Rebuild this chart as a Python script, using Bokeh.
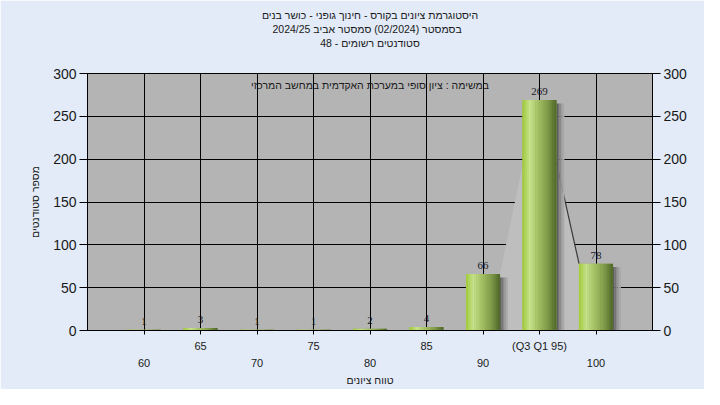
from bokeh.plotting import figure
from bokeh.models import (Range1d, FixedTicker, LinearAxis, Label, LabelSet, Title,
                          ColumnDataSource)
from bokeh.embed import file_html
from bokeh.resources import INLINE

# ---------------- data ----------------
grade_labels = ["60", "65", "70", "75", "80", "85", "90", "(Q3 Q1 95)", "100"]
counts = [1, 3, 1, 1, 2, 4, 66, 269, 78]
y_ticks = [0, 50, 100, 150, 200, 250, 300]
band_values = [66, 193, 196, 78]   # light quartile band around the 95 bar

title_lines = [
    "היסטוגרמת ציונים בקורס - חינוך גופני - כושר בנים",
    "בסמסטר  (02/2024)  סמסטר אביב 2024/25",
    "סטודנטים רשומים - 48",
]
note_text = "במשימה : ציון סופי במערכת האקדמית במחשב המרכזי"
x_title = "טווח ציונים"
y_title = "מספר סטודנטים"

# ---------------- helpers ----------------
FONT = "Liberation Sans"
HEB_SIZE = "10.5px"
idx = list(range(len(counts)))
BAR_W = 0.6


def hex2rgb(h):
    h = h.lstrip("#")
    return tuple(int(h[i:i + 2], 16) for i in (0, 2, 4))


def interp(stops, t):
    for (t0, c0), (t1, c1) in zip(stops, stops[1:]):
        if t0 <= t <= t1:
            f = (t - t0) / (t1 - t0) if t1 > t0 else 0
            a, b = hex2rgb(c0), hex2rgb(c1)
            return "#%02x%02x%02x" % tuple(int(round(a[i] + (b[i] - a[i]) * f)) for i in range(3))
    return stops[-1][1]


# ---------------- figure ----------------
p = figure(width=704, height=389, x_range=Range1d(-1, 9), y_range=Range1d(0, 300),
           output_backend="svg", toolbar_location=None,
           min_border_left=87, min_border_right=52, min_border_top=73, min_border_bottom=59)
p.background_fill_color = "#b4b4b4"
p.border_fill_color = "#e2ebf7"
p.outline_line_color = "black"
p.outline_line_width = 1

# x axis (row 1: odd labels + ticks)
xa = p.xaxis[0]
xa.ticker = FixedTicker(ticks=idx)
xa.major_label_overrides = {i: (grade_labels[i] if i % 2 == 1 else "") for i in idx}
xa.major_tick_out = 4
xa.major_tick_in = 0
xa.minor_tick_line_color = None
xa.axis_line_color = "black"
xa.major_tick_line_color = "black"
xa.major_label_standoff = 5
xa.major_label_text_font = FONT
xa.major_label_text_font_size = "11px"
xa.major_label_text_color = "#1a1a1a"

# x axis (row 2: even labels + axis title)
xa2 = LinearAxis(ticker=FixedTicker(ticks=idx))
xa2.major_label_overrides = {i: (grade_labels[i] if i % 2 == 0 else "") for i in idx}
xa2.axis_line_color = None
xa2.major_tick_line_color = None
xa2.minor_tick_line_color = None
xa2.major_tick_out = 0
xa2.major_tick_in = 0
xa2.major_label_standoff = 4
xa2.major_label_text_font = FONT
xa2.major_label_text_font_size = "11px"
xa2.major_label_text_color = "#1a1a1a"
xa2.axis_label = x_title
xa2.axis_label_text_font = FONT
xa2.axis_label_text_font_size = HEB_SIZE
xa2.axis_label_text_font_style = "normal"
xa2.axis_label_text_color = "#1a1a1a"
xa2.axis_label_standoff = 4
p.add_layout(xa2, "below")

# y axes
ya = p.yaxis[0]
ya.ticker = FixedTicker(ticks=y_ticks)
ya2 = LinearAxis(ticker=FixedTicker(ticks=y_ticks))
p.add_layout(ya2, "right")
for ax in (ya, ya2):
    ax.major_tick_out = 8
    ax.major_tick_in = 0
    ax.minor_tick_line_color = None
    ax.axis_line_color = "black"
    ax.major_tick_line_color = "black"
    ax.major_label_text_font = FONT
    ax.major_label_text_font_size = "14px"
    ax.major_label_text_color = "#1a1a1a"
    ax.major_label_standoff = 3
ya.axis_label = y_title
ya.axis_label_text_font = FONT
ya.axis_label_text_font_size = HEB_SIZE
ya.axis_label_text_font_style = "normal"
ya.axis_label_text_color = "#1a1a1a"
ya.axis_label_standoff = 9

# grid
p.xgrid.ticker = FixedTicker(ticks=idx)
p.ygrid.ticker = FixedTicker(ticks=y_ticks)
for g in (p.xgrid[0], p.ygrid[0]):
    g.grid_line_color = "black"
    g.grid_line_alpha = 1
    g.grid_line_width = 1

# light quartile band around the 95 bar (between bars 90, 95, 100)
i90, i95, i100 = 6, 7, 8
hw = BAR_W / 2
band_x = [i90 + hw, i90 + hw, i95 - hw, i95 + hw, i100 - hw, i100 - hw]
band_y = [0, band_values[0], band_values[1], band_values[2], band_values[3], 0]
p.patch(band_x, band_y, fill_color="#bebebe", line_color=None)
p.line([i95 + hw, i100 - hw], [band_values[2], band_values[3]], line_color="#3a3a3a", line_width=1.2)

# bar shadows
shadow_cols = ["#5e5e5e", "#747474", "#8a8a8a", "#9c9c9c", "#aaaaaa"]
sw = 0.028
for k, c in enumerate(shadow_cols):
    p.vbar(x=[i + hw + sw * (k + 0.5) for i in idx], width=sw * 1.05,
           top=[max(v - 4, 0) for v in counts], bottom=0,
           fill_color=c, line_color=None)

# bars as cylinders: solid base + vertical gradient strips
p.vbar(x=idx, width=BAR_W, top=counts, bottom=0, fill_color="#8fae52", line_color=None)
stops = [(0.0, "#a0ca38"), (0.22, "#c6e28c"), (0.45, "#a6c266"),
         (0.75, "#7e9a48"), (1.0, "#4e6628")]
N = 16
strip = BAR_W / N
for k in range(N):
    t = (k + 0.5) / N
    p.vbar(x=[i - hw + strip * (k + 0.5) for i in idx], width=strip * 1.15,
           top=counts, bottom=0, fill_color=interp(stops, t), line_color=None)

# value labels
src = ColumnDataSource(dict(x=idx, y=counts, t=[str(v) for v in counts]))
p.add_layout(LabelSet(x="x", y="y", text="t", source=src, y_offset=5,
                      text_align="center", text_baseline="bottom",
                      text_font=FONT, text_font_size="11px", text_color="#1a1a24"))

# note inside the plot
p.add_layout(Label(x=4, y=287, text=note_text, text_align="center",
                   text_baseline="middle", text_font=FONT,
                   text_font_size=HEB_SIZE, text_color="#1a1a1a"))

# invisible spacer axis between frame and the title lines
spacer = LinearAxis(ticker=FixedTicker(ticks=[4]), axis_line_color=None,
                    major_tick_line_color=None, minor_tick_line_color=None,
                    major_tick_out=25, major_tick_in=0, minor_tick_out=0, minor_tick_in=0,
                    major_label_standoff=0, major_label_overrides={4: ""},
                    major_label_text_font_size="1px")
p.add_layout(spacer, "above")

# three title lines (added closest-first)
for line in reversed(title_lines):
    p.add_layout(Title(text=line, align="center", text_font=FONT,
                       text_font_size=HEB_SIZE, text_font_style="normal",
                       text_color="#1a1a1a", standoff=0), "above")

open("out.html", "w").write(file_html(p, INLINE))
